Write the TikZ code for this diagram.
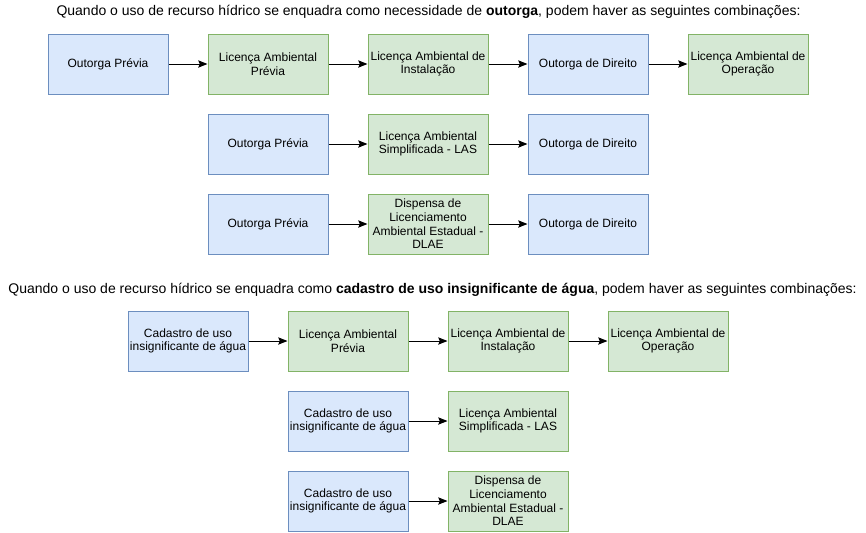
\documentclass[tikz,border=0pt]{standalone}
\usepackage{fontspec}
\setmainfont{Liberation Sans}
\usetikzlibrary{arrows.meta}

\definecolor{outfill}{HTML}{DAE8FC}
\definecolor{outdraw}{HTML}{6C8EBF}
\definecolor{licfill}{HTML}{D5E8D4}
\definecolor{licdraw}{HTML}{82B366}

\tikzset{every picture/.style={line width=0.75pt}}
\tikzset{
  outbox/.style={draw=outdraw, fill=outfill, minimum width=90pt, minimum height=45pt, inner sep=1pt, align=center, font=\fontsize{9}{10.2}\selectfont},
  licbox/.style={draw=licdraw, fill=licfill, minimum width=90pt, minimum height=45pt, inner sep=1pt, align=center, font=\fontsize{9}{10.2}\selectfont},
  seta/.style={-{Stealth[length=7pt,width=5.5pt,inset=1.2pt]}, line width=0.75pt},
  titulo/.style={inner sep=0.75pt, font=\fontsize{10.5}{12}\selectfont}
}

\begin{document}
\begin{tikzpicture}[x=0.75pt,y=0.75pt,yscale=-1,xscale=1]
\useasboundingbox (0,0) rectangle (866,532);

% Text Node
\node [titulo] (t1) at (428.5,12) {Quando o uso de recurso hídrico se enquadra como necessidade de \textbf{outorga}, podem haver as seguintes combinações:};

%Row 1
\node [outbox] (a1) at (108,64) {Outorga Prévia};
\node [licbox] (a2) at (268,64) {Licença Ambiental\\Prévia};
\node [licbox] (a3) at (428,64) {Licença Ambiental de\\Instalação};
\node [outbox] (a4) at (588,64) {Outorga de Direito};
\node [licbox] (a5) at (748,64) {Licença Ambiental de\\Operação};

%Row 2
\node [outbox] (b1) at (268,144) {Outorga Prévia};
\node [licbox] (b2) at (428,144) {Licença Ambiental\\Simplificada - LAS};
\node [outbox] (b3) at (588,144) {Outorga de Direito};

%Row 3
\node [outbox] (c1) at (268,224) {Outorga Prévia};
\node [licbox] (c2) at (428,224) {Dispensa de\\Licenciamento\\Ambiental Estadual -\\DLAE};
\node [outbox] (c3) at (588,224) {Outorga de Direito};

% Text Node
\node [titulo] (t2) at (432.5,290) {Quando o uso de recurso hídrico se enquadra como \textbf{cadastro de uso insignificante de água}, podem haver as seguintes combinações:};

%Row 4
\node [outbox] (d1) at (188,341) {Cadastro de uso\\insignificante de água};
\node [licbox] (d2) at (348,341) {Licença Ambiental\\Prévia};
\node [licbox] (d3) at (508,341) {Licença Ambiental de\\Instalação};
\node [licbox] (d4) at (668,341) {Licença Ambiental de\\Operação};

%Row 5
\node [outbox] (e1) at (348,421) {Cadastro de uso\\insignificante de água};
\node [licbox] (e2) at (508,421) {Licença Ambiental\\Simplificada - LAS};

%Row 6
\node [outbox] (f1) at (348,501) {Cadastro de uso\\insignificante de água};
\node [licbox] (f2) at (508,501) {Dispensa de\\Licenciamento\\Ambiental Estadual -\\DLAE};

%Straight Lines
\draw [seta] (a1) -- (a2);
\draw [seta] (a2) -- (a3);
\draw [seta] (a3) -- (a4);
\draw [seta] (a4) -- (a5);
\draw [seta] (b1) -- (b2);
\draw [seta] (b2) -- (b3);
\draw [seta] (c1) -- (c2);
\draw [seta] (c2) -- (c3);
\draw [seta] (d1) -- (d2);
\draw [seta] (d2) -- (d3);
\draw [seta] (d3) -- (d4);
\draw [seta] (e1) -- (e2);
\draw [seta] (f1) -- (f2);

\end{tikzpicture}
\end{document}
